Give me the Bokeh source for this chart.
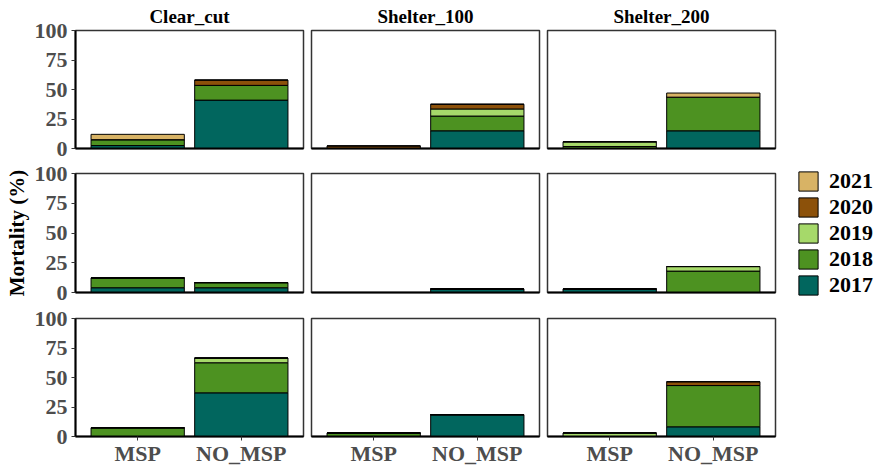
from bokeh.plotting import figure
from bokeh.layouts import row, column
from bokeh.models import (ColumnDataSource, Range1d, FixedTicker, Legend,
                          LegendItem)
from bokeh.embed import file_html
from bokeh.resources import INLINE

sites = ["Clear_cut", "Shelter_100", "Shelter_200"]
treatments = ["MSP", "NO_MSP"]
years = ["2017", "2018", "2019", "2020", "2021"]
year_colors = ["#01665E", "#4D9221", "#A6D96A", "#8C510A", "#D8B365"]
y_ticks = [0, 25, 50, 75, 100]

# Mortality (%) per year; 18 values ordered panel-row -> site -> treatment
m2017 = [2.5, 41.0, 0.0, 15.0, 0.0, 15.0,
         4.0, 4.0, 0.0, 3.0, 3.0, 0.0,
         0.0, 37.0, 0.0, 18.5, 0.0, 8.2]
m2018 = [5.0, 12.5, 0.0, 12.5, 1.7, 28.5,
         8.3, 4.3, 0.0, 0.0, 0.0, 18.0,
         7.4, 25.5, 3.0, 0.0, 0.0, 35.0]
m2019 = [0.0, 0.0, 0.0, 6.0, 4.0, 0.0,
         0.0, 0.0, 0.0, 0.0, 0.0, 3.8,
         0.0, 4.0, 0.0, 0.0, 3.0, 0.0]
m2020 = [0.0, 4.5, 2.2, 4.0, 0.0, 0.0,
         0.0, 0.0, 0.0, 0.0, 0.0, 0.0,
         0.0, 0.0, 0.0, 0.0, 0.0, 3.2]
m2021 = [4.5, 0.0, 0.0, 0.0, 0.0, 3.5,
         0.0, 0.0, 0.0, 0.0, 0.0, 0.0,
         0.0, 0.0, 0.0, 0.0, 0.0, 0.0]

series = dict(zip(years, [m2017, m2018, m2019, m2020, m2021]))

FONT = "Liberation Serif"
N_ROWS = 3
frame_heights = [118, 119, 118]
top_borders = [30, 13, 13]
bottom_borders = [12, 13, 29]


def make_panel(r, s):
    first_col = s == 0
    last_row = r == N_ROWS - 1
    with_legend = (r == 1 and s == 2)
    p = figure(frame_width=228, frame_height=frame_heights[r],
               x_range=Range1d(0.4, 2.6), y_range=Range1d(0, 100),
               y_axis_location="left" if first_col else None,
               title=sites[s] if r == 0 else None,
               min_border_left=75 if first_col else 4,
               min_border_right=4,
               min_border_top=top_borders[r],
               min_border_bottom=bottom_borders[r],
               output_backend="svg", toolbar_location=None)
    p.xgrid.visible = False
    p.ygrid.visible = False
    p.outline_line_color = "#333333"
    p.outline_line_width = 1.5
    p.border_fill_color = "white"

    idx0 = r * 6 + s * 2
    data = {"x": [1, 2]}
    for y in years:
        data[y] = series[y][idx0:idx0 + 2]
    src = ColumnDataSource(data)
    rends = p.vbar_stack(years, x="x", width=0.9, source=src,
                         fill_color=year_colors, line_color="black",
                         line_width=1)

    xa = p.xaxis[0]
    xa.axis_line_color = "black"
    xa.axis_line_width = 2
    xa.minor_tick_line_color = None
    if last_row:
        xa.ticker = FixedTicker(ticks=[1, 2])
        xa.major_label_overrides = {1: treatments[0], 2: treatments[1]}
        xa.major_tick_line_color = "#333333"
        xa.major_tick_out = 4
        xa.major_tick_in = 0
        xa.major_label_standoff = 0
        xa.major_label_text_font = FONT
        xa.major_label_text_font_style = "bold"
        xa.major_label_text_font_size = "22px"
        xa.major_label_text_color = "#4D4D4D"
    else:
        xa.ticker = FixedTicker(ticks=[])
        xa.major_tick_out = 0
        xa.major_tick_in = 0

    if first_col:
        ya = p.yaxis[0]
        ya.ticker = FixedTicker(ticks=y_ticks)
        ya.axis_line_color = "black"
        ya.axis_line_width = 2
        ya.major_tick_line_color = "#333333"
        ya.major_tick_out = 4
        ya.major_tick_in = 0
        ya.minor_tick_line_color = None
        ya.major_label_standoff = 4
        ya.major_label_text_font = FONT
        ya.major_label_text_font_style = "bold"
        ya.major_label_text_font_size = "22px"
        ya.major_label_text_color = "#4D4D4D"
        if r == 1:
            ya.axis_label = "Mortality (%)"
            ya.axis_label_text_font = FONT
            ya.axis_label_text_font_style = "bold"
            ya.axis_label_text_font_size = "21px"
            ya.axis_label_text_color = "black"
            ya.axis_label_standoff = 3

    if r == 0:
        p.title.align = "center"
        p.title.text_font = FONT
        p.title.text_font_style = "bold"
        p.title.text_font_size = "19px"
        p.title.text_color = "black"
        p.title.standoff = 7

    if with_legend:
        items = [LegendItem(label=y, renderers=[rend])
                 for y, rend in zip(years, rends)][::-1]
        legend = Legend(items=items, location=(21, -6),
                        glyph_width=24, glyph_height=24, spacing=0,
                        label_standoff=9, padding=0, margin=0,
                        label_text_font=FONT, label_text_font_style="bold",
                        label_text_font_size="22px", label_text_color="black",
                        label_height=24,
                        border_line_color=None, background_fill_alpha=0)
        p.add_layout(legend, "right")
    return p


rows = []
for r in range(N_ROWS):
    rows.append(row(*[make_panel(r, s) for s in range(len(sites))]))
layout = column(*rows)

open("out.html", "w").write(file_html(layout, INLINE))
